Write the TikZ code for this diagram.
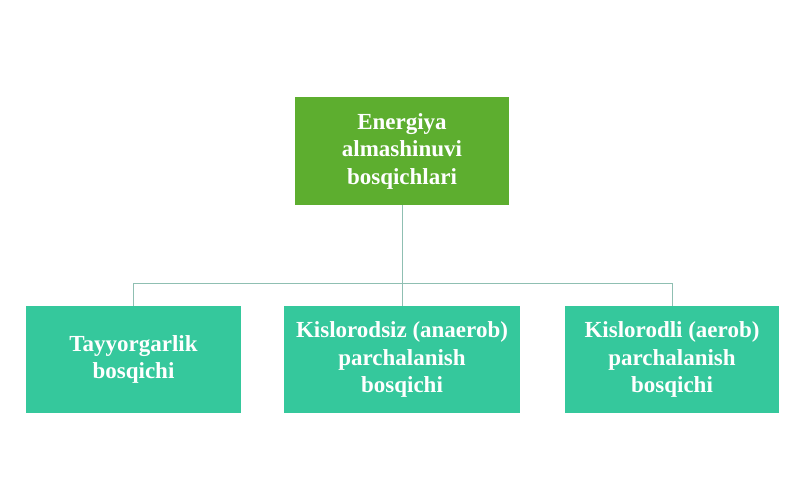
\documentclass[tikz,border=0pt]{standalone}
\usepackage{fontspec}
\setmainfont{Liberation Serif}
\usetikzlibrary{positioning}

\definecolor{topgreen}{HTML}{5DAE2F}
\definecolor{stepteal}{HTML}{35C89C}
\definecolor{linkgray}{HTML}{8FBFB2}

\tikzset{
  topbox/.style={fill=topgreen, text=white, font=\bfseries\fontsize{23}{27.5}\selectfont,
    minimum width=214pt, minimum height=108pt, align=center, inner sep=0pt},
  stagebox/.style={fill=stepteal, text=white, font=\bfseries\fontsize{23}{27.5}\selectfont,
    minimum width=215pt, minimum height=107pt, align=center, inner sep=0pt},
  link/.style={draw=linkgray, line width=0.8pt}
}

\begin{document}
\begin{tikzpicture}[x=1pt,y=-1pt]
\useasboundingbox (0,0) rectangle (800,485);

% --- bosh blok ---
\node[topbox] (root) at (402,151) {Energiya\\almashinuvi\\bosqichlari};

% --- bosqichlar ---
\node[stagebox] (prep) at (133.5,359.5) {Tayyorgarlik\\bosqichi};
\node[stagebox, minimum width=236pt] (anaer) at (402,359.5) {Kislorodsiz (anaerob)\\parchalanish\\bosqichi};
\node[stagebox, minimum width=214pt] (aer) at (672,359.5) {Kislorodli (aerob)\\parchalanish\\bosqichi};

% --- bog'lovchi chiziqlar ---
\coordinate (split) at (402,283);
\draw[link] (root.south) -- (split);
\draw[link] (split) -| (prep.north);
\draw[link] (split) -- (anaer.north);
\draw[link] (split) -| (aer.north);

\end{tikzpicture}
\end{document}
